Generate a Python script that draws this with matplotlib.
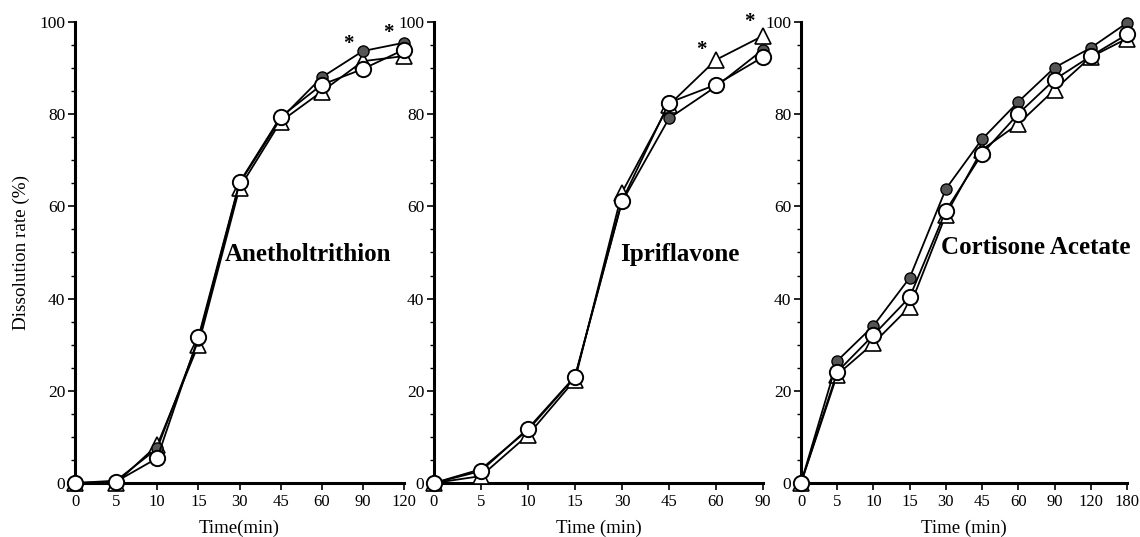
import matplotlib
matplotlib.use("Agg")
import matplotlib.pyplot as plt
from matplotlib.ticker import MultipleLocator

plt.rcParams['font.family'] = ['Liberation Serif', 'DejaVu Serif']

# ---- data ----
t1 = ["0", "5", "10", "15", "30", "45", "60", "90", "120"]
a_filled = [0, 0.5, 7.5, 31, 65, 79, 88, 93.7, 95.5]
a_tri = [0, 0, 8.2, 30, 64, 78.4, 84.9, 91.5, 92.6]
a_open = [0, 0.3, 5.4, 31.6, 65.2, 79.4, 86.4, 89.8, 94]

t2 = ["0", "5", "10", "15", "30", "45", "60", "90"]
i_filled = [0, 3, 11.5, 23, 61, 79.1, 86, 94]
i_tri = [0, 1.5, 10.4, 22.4, 63, 82, 91.8, 97]
i_open = [0, 2.6, 11.8, 23.1, 61.2, 82.5, 86.4, 92.4]

t3 = ["0", "5", "10", "15", "30", "45", "60", "90", "120", "180"]
c_filled = [0, 26.5, 34.1, 44.5, 63.8, 74.6, 82.7, 90.1, 94.4, 99.8]
c_tri = [0, 23.5, 30.3, 38.2, 58.2, 72.3, 77.9, 85.3, 92.4, 96.4]
c_open = [0, 24.1, 32.1, 40.3, 59.1, 71.4, 80.1, 87.5, 92.6, 97.3]

panels = [
    dict(t=t1, f=a_filled, tr=a_tri, o=a_open, name="Anetholtrithion",
         xlabel="Time(min)", namepos=(3.65, 49.5),
         stars=[(6.64, 95.2), (7.62, 97.6)],
         rect=[75/1140, 1-483/537, 329/1140, 461/537]),
    dict(t=t2, f=i_filled, tr=i_tri, o=i_open, name="Ipriflavone",
         xlabel="Time (min)", namepos=(3.96, 49.5),
         stars=[(5.68, 93.9), (6.72, 100)],
         rect=[434/1140, 1-483/537, 329/1140, 461/537]),
    dict(t=t3, f=c_filled, tr=c_tri, o=c_open, name="Cortisone Acetate",
         xlabel="Time (min)", namepos=(3.86, 51),
         stars=[],
         rect=[801/1140, 1-483/537, 326/1140, 461/537]),
]

fig = plt.figure(figsize=(11.4, 5.37), dpi=100)

for i, p in enumerate(panels):
    ax = fig.add_axes(p["rect"])
    x = list(range(len(p["t"])))
    ax.plot(x, p["tr"], color="black", lw=1.3, marker="^", ms=11,
            mfc="white", mec="black", mew=1.2, clip_on=False, zorder=3)
    ax.plot(x, p["f"], color="black", lw=1.3, marker="o", ms=8,
            mfc="#555555", mec="black", mew=1.0, clip_on=False, zorder=4)
    ax.plot(x, p["o"], color="black", lw=1.3, marker="o", ms=11,
            mfc="white", mec="black", mew=1.4, clip_on=False, zorder=5)
    ax.set_xlim(0, len(x) - 1)
    ax.set_ylim(0, 100)
    ax.set_xticks(x)
    ax.set_xticklabels(p["t"])
    ax.yaxis.set_major_locator(MultipleLocator(20))
    ax.yaxis.set_minor_locator(MultipleLocator(5))
    for s in ["top", "right"]:
        ax.spines[s].set_visible(False)
    for s in ["left", "bottom"]:
        ax.spines[s].set_linewidth(2.2)
    ax.tick_params(axis="both", which="major", direction="out", length=5,
                   width=1.2, labelsize=12.5, pad=2)
    ax.tick_params(axis="x", which="major", labelsize=12, pad=3)
    ax.tick_params(axis="y", which="minor", direction="out", length=3, width=1.0)
    ax.set_xlabel(p["xlabel"], fontsize=13.5, labelpad=7)
    if i == 0:
        ax.set_ylabel("Dissolution rate (%)", fontsize=13.8, labelpad=7)
    ax.text(p["namepos"][0], p["namepos"][1], p["name"], fontsize=18,
            fontweight="bold", ha="left", va="center")
    for sx, sy in p["stars"]:
        ax.text(sx, sy, "*", fontsize=15, fontweight="bold",
                ha="center", va="center")

fig.savefig("out.png", dpi=100)
